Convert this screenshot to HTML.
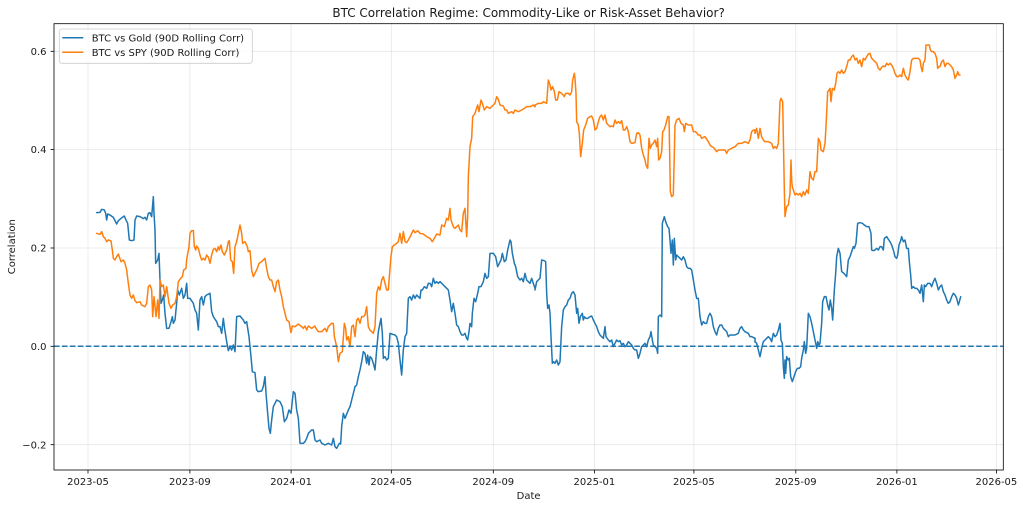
<!DOCTYPE html>
<html><head><meta charset="utf-8"><style>
html,body{margin:0;padding:0;background:#fff;}
svg{display:block;}
text{font-family:"DejaVu Sans","Liberation Sans",sans-serif;fill:#1a1a1a;}
.s{fill:none;stroke-width:1.5;stroke-linejoin:round;stroke-linecap:round;}
.b{stroke:#1f77b4;}
.o{stroke:#ff7f0e;}
</style></head><body>
<svg width="1024" height="509" viewBox="0 0 1024 509" xmlns="http://www.w3.org/2000/svg">
<rect width="1024" height="509" fill="#fff"/>
<!-- grid -->
<g stroke="#b0b0b0" stroke-opacity="0.3" stroke-width="0.8">
<line x1="88" y1="23.7" x2="88" y2="470"/>
<line x1="189.9" y1="23.7" x2="189.9" y2="470"/>
<line x1="291.1" y1="23.7" x2="291.1" y2="470"/>
<line x1="391.3" y1="23.7" x2="391.3" y2="470"/>
<line x1="493.3" y1="23.7" x2="493.3" y2="470"/>
<line x1="594.4" y1="23.7" x2="594.4" y2="470"/>
<line x1="693.9" y1="23.7" x2="693.9" y2="470"/>
<line x1="795.8" y1="23.7" x2="795.8" y2="470"/>
<line x1="896.9" y1="23.7" x2="896.9" y2="470"/>
<line x1="996.4" y1="23.7" x2="996.4" y2="470"/>
<line x1="54" y1="444.7" x2="1003.3" y2="444.7"/>
<line x1="54" y1="346.3" x2="1003.3" y2="346.3"/>
<line x1="54" y1="248" x2="1003.3" y2="248"/>
<line x1="54" y1="149.6" x2="1003.3" y2="149.6"/>
<line x1="54" y1="51.3" x2="1003.3" y2="51.3"/>
</g>

<!-- BLUE series -->
<g transform="translate(85,180) scale(0.333333)">
<polyline class="s b" vector-effect="non-scaling-stroke" points="35,98 45,97 50,88 58,90 62,100 65,120 68,102 75,105 85,112 95,132 100,122 112,112 118,108 122,118 128,130 133,180 140,182 147,180 150,120 155,108 165,110 175,116 180,112 185,120 190,100 195,98 200,110 205,50 207,100 210,150 212,250 218,240 222,220 225,300 228,370 232,360 236,345 240,400 245,445 252,445 258,425 262,410 265,430 270,420 275,370 278,330 283,345 290,325 295,355 300,345 305,310 308,355 315,355 325,370 330,390 335,400 340,450 345,360 350,350 355,375 360,350 365,345 375,340 380,395 385,410 395,425 400,440 405,440 410,460 415,415 418,440 425,485 430,512 435,500 440,510 445,495 450,515 455,410 465,408 475,420 480,430 485,425 487,438 492,470 498,530 502,575 510,578 515,630 520,635 530,633 535,620 540,590 543,640 548,700 552,745 556,760 560,720 565,680 575,660 585,665 592,680 598,725 605,715 612,690 618,700 625,635 630,640 635,690 640,715 645,790 655,790 660,785 665,775 670,760 680,750"/>
</g>
<line class="s b" x1="311.67" y1="430" x2="313.33" y2="430"/>
<g transform="translate(0,330) scale(0.333333)">
<polyline class="s b" vector-effect="non-scaling-stroke" points="940,300 945,330 950,335 960,330 965,340 975,345 985,340 995,345 1000,325 1005,350 1010,355 1018,340 1022,342 1025,290 1030,250 1035,265 1045,240 1050,230"/>
</g>
<line class="s b" x1="350" y1="406.67" x2="355" y2="386.67"/>
<g transform="translate(305,60) scale(0.333333)">
<polyline class="s b" vector-effect="non-scaling-stroke" points="150,980 155,975 160,950 165,930 170,905 175,875 180,880 185,910 188,885 192,915 195,890 200,895 205,910 210,930 215,870 220,815 225,790 228,775 232,820 235,895 240,890 245,900 250,895 255,820 260,822 270,825 275,830 280,850 285,900 290,945 295,870 300,830 305,820 310,715 315,710 320,720 325,705 330,715 335,705 340,710 345,715 348,690 352,690 358,680 365,685 370,670 375,670 380,680 385,655 390,670 395,665 400,670 405,665 410,670 415,675 420,680 425,685 430,690 435,720 440,755 445,730 450,760 455,795 460,800 465,815 470,825 475,825 480,820 485,835 488,840 492,815 495,790 500,800 502,760 507,715 512,725 518,700 522,680 528,680 535,665 540,640 545,655 550,650 555,580 565,580 572,590 578,620 583,610 588,600 592,580 598,605 603,600 608,570 615,540 618,545 622,580 628,610 632,620 638,650 645,660 650,655 655,665 660,640 665,660 670,665 675,670 680,655 685,670 690,685"/>
</g>
<g transform="translate(525,60) scale(0.333333)">
<polyline class="s b" vector-effect="non-scaling-stroke" points="30,690 35,665 40,660 45,655 50,600 58,602 62,605 65,700 68,745 72,735 75,760 78,830 82,910 86,905 90,910 95,900 100,915 105,905 110,800 115,750 120,740 125,735 130,720 135,715 140,700 145,695 150,705 155,760 158,745 162,790 166,770 172,760 175,780 178,770 182,775 188,775 195,770 200,768 205,780 210,790 215,800 220,815 225,825 230,830 235,835 240,800 243,830 250,840 255,845 260,840 265,860 270,850 275,840 280,845 285,842 290,855 295,850 300,860 305,855 310,845 315,850 320,855 325,865 330,870 335,870 340,895 345,880 350,860 355,855 360,850 365,860 370,840 375,830 378,815 382,840 385,855 390,860 395,865 398,880 400,770 405,765 410,770 412,490 418,470 422,485 428,500 432,505 435,540 438,580 442,540 445,615 448,535 452,600 455,585 460,590 465,595 470,600 475,590 480,600 485,620 490,625 495,625 500,630 505,660 510,690 515,715 520,715 525,770 530,795 535,785 540,790 545,790 550,770 555,760 560,770 565,800 570,815 575,825 580,805 585,795 590,795 595,805 600,810 605,815 610,830 615,825 620,825 630,825 640,820 645,805 650,800 655,810 660,815 670,820 675,830 680,830 690,835"/>
</g>
<line class="s b" x1="755" y1="338.3" x2="755" y2="341.7"/>
<g transform="translate(745,30) scale(0.333333)">
<polyline class="s b" vector-effect="non-scaling-stroke" points="30,935 35,940 40,960 45,980 50,955 55,935 60,930 65,925 70,920 75,925 80,935 85,910 90,920 95,915 100,900 105,880 108,930 112,940 115,1010 118,1045 120,990 122,1030 125,980 130,990 133,985 137,1040 142,1055 147,1040 152,1025 157,1015 162,1015 167,1010 170,985 175,960 178,935 182,970 185,955 190,850 195,860 200,880 205,905 210,930 215,955 218,935 222,945 225,940 230,880 233,815 238,800 243,800 248,825 252,840 256,810 260,835 263,870 268,780 272,730 275,680 280,655 285,670 290,725 297,730 305,740 310,690 315,680 320,665 325,650 328,655 333,640 338,580 345,578 352,580 358,585 365,590 372,590 378,610 380,660 385,662 390,660 395,655 400,660 405,650 410,650 415,660 418,625 425,620 430,628 435,635 440,645 445,660 450,680 455,685 458,675 462,645 467,632 470,620 475,635 480,630 485,655 490,655 493,695 497,735 500,775 505,770 510,775 515,775 520,780 525,790 530,765 535,815 538,765 542,770 548,760 555,760 560,770 565,755 570,745 575,760 580,780 585,770 590,765 595,785 600,795 605,810 610,820 615,815 620,800 625,790 630,795 635,805 640,825 643,815 647,800"/>
</g>

<!-- ORANGE series -->
<g transform="translate(85,180) scale(0.333333)">
<polyline class="s o" vector-effect="non-scaling-stroke" points="35,160 45,163 50,155 55,170 60,175 65,185 70,180 78,183 82,210 85,235 90,240 95,230 100,222 108,245 115,240 120,250 125,270 130,310 135,345 140,355 145,345 150,362 155,368 165,365 170,375 180,380 185,370 190,320 195,315 200,330 203,410 207,350 210,380 213,410 218,360 222,415 225,300 230,320 235,315 240,350 245,320 252,370 258,385 263,375 270,370 275,350 280,305 287,295 292,290 296,270 303,265 305,238 312,200 315,160 320,152 325,152 328,200 332,210 335,198 340,205 345,225 350,240 355,235 360,240 365,225 370,232 375,250 380,225 385,208 390,205 395,215 400,200 403,210 408,195 412,215 418,225 425,210 430,185 433,182 437,240 442,245 446,280 450,200 455,185 460,160 465,135 470,160 473,190 480,185 487,200 490,215 495,212 500,270 505,290 510,280 517,265 522,250 530,245 537,238 540,235 545,265 550,290 555,300 560,300 565,320 570,335 575,305 580,300 585,330 590,350 595,380 600,400 605,420 612,425 618,458 622,438 630,440 640,432 650,440 655,445 660,438 665,450 670,438 680,445 690,438"/>
</g>
<g transform="translate(305,60) scale(0.333333)">
<polyline class="s o" vector-effect="non-scaling-stroke" points="30,800 40,815 50,815 60,805 65,815 70,800 80,790 85,790 88,830 95,860 100,905 105,880 112,875 118,790 122,805 125,840 130,830 135,860 140,800 145,795 150,830 155,780 160,775 165,790 170,770 175,770 180,765 185,740 190,800 195,810 200,815 205,820 210,800 215,700 220,680 225,690 230,660 235,650 240,670 245,690 250,690 253,650 258,590 262,560 268,555 275,550 280,545 285,520 290,550 295,515 300,545 305,548 310,540 318,525 325,510 330,518 338,512 345,520 355,522 365,530 375,535 382,545 388,535 395,522 405,525 410,495 418,500 425,475 430,480 435,445 438,480 445,500 450,505 460,495 465,510 470,515 475,460 480,445 485,530 488,470 490,350 495,260 500,235 503,170 510,160 518,135 522,155 528,120 532,130 538,150 545,140 555,145 565,135 570,130 575,110 580,118 585,135 595,138 600,150 605,150 610,160 620,155 625,160 630,150 640,155 650,150 658,145 665,140 675,140 685,135 690,140"/>
</g>
<line class="s o" x1="535" y1="106.7" x2="535" y2="105"/>
<g transform="translate(525,60) scale(0.333333)">
<polyline class="s o" vector-effect="non-scaling-stroke" points="30,135 40,130 50,130 55,125 65,130 70,60 75,75 78,90 83,80 88,95 92,120 97,120 102,95 110,100 118,110 122,100 130,100 135,105 140,95 143,60 148,40 150,55 153,100 155,185 160,195 163,220 167,290 172,250 176,210 182,195 188,175 195,170 200,168 205,180 210,210 215,205 220,185 225,170 230,165 235,180 240,165 245,190 250,195 255,200 260,198 265,200 270,180 275,190 280,185 285,190 290,182 295,210 300,210 305,200 310,215 315,245 320,250 330,248 335,220 340,218 345,225 350,265 355,285 360,300 363,315 368,325 372,235 376,265 380,255 385,250 390,240 395,260 398,235 401,300 405,295 410,275 413,215 417,210 422,195 428,170 432,170 436,395 440,410 445,405 450,195 455,180 462,175 468,190 475,195 478,215 482,190 490,195 500,195 505,215 512,215 520,225 525,225 530,235 540,230 550,245 555,255 560,260 565,262 575,275 580,270 590,270 600,270 605,280 610,270 620,265 630,260 640,250 650,250 660,245 670,250 675,240 680,215 685,210 690,210"/>
</g>
<line class="s o" x1="755" y1="130" x2="755" y2="133.3"/>
<g transform="translate(745,30) scale(0.333333)">
<polyline class="s o" vector-effect="non-scaling-stroke" points="30,310 35,295 40,325 45,295 50,320 55,330 60,335 70,335 80,340 85,355 90,350 95,355 100,340 105,215 108,205 113,215 115,320 118,480 120,560 125,530 130,525 135,490 138,390 140,450 142,470 145,480 150,495 155,490 160,495 165,490 170,500 175,485 180,495 185,480 190,490 195,425 200,445 205,450 210,425 215,425 220,325 225,335 228,360 235,365 240,340 243,290 248,185 252,180 255,175 258,215 262,175 268,180 272,160 276,130 280,125 285,130 290,120 295,130 300,125 305,110 310,90 315,90 320,80 325,75 330,90 335,85 340,100 345,90 350,110 355,85 360,90 365,80 370,72 375,70 380,85 385,90 390,95 395,100 400,115 405,120 410,112 415,108 420,110 425,100 430,105 435,100 440,105 445,115 450,130 455,140 460,140 465,135 470,140 475,115 480,135 485,145 490,150 495,125 500,90 505,85 510,85 520,85 525,90 528,110 532,125 535,100 540,90 543,45 548,45 553,45 556,60 560,65 565,65 570,70 575,85 578,115 582,110 585,110 590,95 595,90 600,110 605,100 610,100 615,105 620,110 625,120 630,145 635,135 638,125 642,135 645,135"/>
</g>

<!-- zero line -->
<line x1="54" y1="346.3" x2="1003.3" y2="346.3" stroke="#1f77b4" stroke-width="1.5" stroke-dasharray="5.55,2.4"/>

<!-- spines -->
<rect x="54" y="23.7" width="949.3" height="446.3" fill="none" stroke="#000" stroke-width="0.8"/>

<!-- ticks -->
<g stroke="#000" stroke-width="0.8">
<line x1="88" y1="470" x2="88" y2="473.5"/>
<line x1="189.9" y1="470" x2="189.9" y2="473.5"/>
<line x1="291.1" y1="470" x2="291.1" y2="473.5"/>
<line x1="391.3" y1="470" x2="391.3" y2="473.5"/>
<line x1="493.3" y1="470" x2="493.3" y2="473.5"/>
<line x1="594.4" y1="470" x2="594.4" y2="473.5"/>
<line x1="693.9" y1="470" x2="693.9" y2="473.5"/>
<line x1="795.8" y1="470" x2="795.8" y2="473.5"/>
<line x1="896.9" y1="470" x2="896.9" y2="473.5"/>
<line x1="996.4" y1="470" x2="996.4" y2="473.5"/>
<line x1="50.5" y1="444.7" x2="54" y2="444.7"/>
<line x1="50.5" y1="346.3" x2="54" y2="346.3"/>
<line x1="50.5" y1="248" x2="54" y2="248"/>
<line x1="50.5" y1="149.6" x2="54" y2="149.6"/>
<line x1="50.5" y1="51.3" x2="54" y2="51.3"/>
</g>

<!-- x tick labels -->
<g font-size="10" text-anchor="middle">
<text x="88" y="485">2023-05</text>
<text x="189.9" y="485">2023-09</text>
<text x="291.1" y="485">2024-01</text>
<text x="391.3" y="485">2024-05</text>
<text x="493.3" y="485">2024-09</text>
<text x="594.4" y="485">2025-01</text>
<text x="693.9" y="485">2025-05</text>
<text x="795.8" y="485">2025-09</text>
<text x="896.9" y="485">2026-01</text>
<text x="996.4" y="485">2026-05</text>
</g>
<!-- y tick labels -->
<g font-size="10" text-anchor="end">
<text x="46.5" y="448.3">−0.2</text>
<text x="46.5" y="349.9">0.0</text>
<text x="46.5" y="251.6">0.2</text>
<text x="46.5" y="153.2">0.4</text>
<text x="46.5" y="54.9">0.6</text>
</g>

<!-- axis labels & title -->
<text x="528.6" y="499" font-size="10" text-anchor="middle">Date</text>
<text x="15" y="246.7" font-size="10" text-anchor="middle" transform="rotate(-90 15 246.7)">Correlation</text>
<text x="528.6" y="17" font-size="12" text-anchor="middle">BTC Correlation Regime: Commodity-Like or Risk-Asset Behavior?</text>

<!-- legend -->
<rect x="59.3" y="29" width="193" height="34.3" rx="2.5" ry="2.5" fill="#fff" fill-opacity="0.8" stroke="#cccccc" stroke-width="0.8"/>
<line x1="62.3" y1="37.7" x2="83.3" y2="37.7" stroke="#1f77b4" stroke-width="1.5"/>
<line x1="62.3" y1="52.3" x2="83.3" y2="52.3" stroke="#ff7f0e" stroke-width="1.5"/>
<text x="91.7" y="41.3" font-size="10">BTC vs Gold (90D Rolling Corr)</text>
<text x="91.7" y="55.9" font-size="10">BTC vs SPY (90D Rolling Corr)</text>
</svg>
</body></html>
